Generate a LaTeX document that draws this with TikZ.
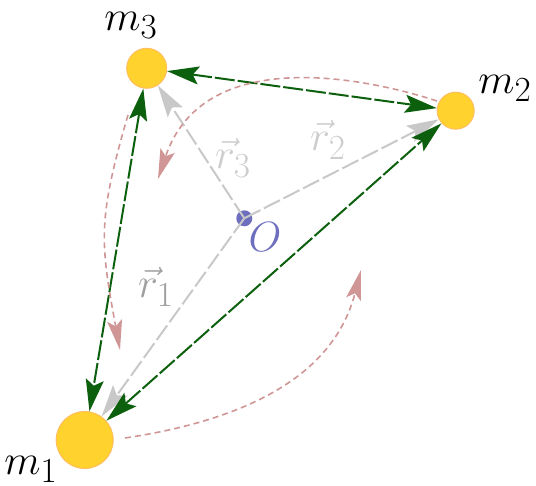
\documentclass[tikz,border=0pt]{standalone}
\usepackage{graphicx}
\usetikzlibrary{arrows.meta}
\definecolor{mgreen}{RGB}{12,95,12}
\definecolor{mgray}{RGB}{200,200,200}
\definecolor{mred}{RGB}{208,150,150}
\definecolor{myel}{RGB}{255,210,45}
\definecolor{mor}{RGB}{255,190,95}
\definecolor{mblue}{RGB}{110,110,190}
\definecolor{rlight}{RGB}{205,205,205}
\definecolor{rdark}{RGB}{160,160,160}
\newcommand{\biglab}[1]{\scalebox{1.7}{\Huge$#1$}}
\tikzset{
  bigtip/.tip={Stealth[length=32pt,width=18pt,inset=6pt]},
  redtip/.tip={Stealth[length=30pt,width=15pt,inset=6pt]},
  mass/.style={circle,fill=myel,draw=mor,line width=1pt,inner sep=0pt},
  gline/.style={draw=mgreen,line width=2pt,dash pattern=on 20pt off 3pt,bigtip-bigtip},
  grayline/.style={draw=mgray,line width=2pt,dash pattern=on 18pt off 4pt,-bigtip},
  redarc/.style={draw=mred,line width=1.6pt,dash pattern=on 6pt off 4pt,-redtip},
  lab/.style={inner sep=0pt}
}
\begin{document}
\begin{tikzpicture}[x=1pt,y=-1pt]
\useasboundingbox (0,0) rectangle (536,486);
% masses and origin
\node[mass,minimum size=57pt] (m1) at (84.7,440) {};
\node[mass,minimum size=37pt] (m2) at (455.7,110.7) {};
\node[mass,minimum size=40pt] (m3) at (146.7,68.3) {};
\node[circle,fill=mblue,minimum size=16pt,inner sep=0pt] (O) at (244.3,218.3) {};
% position vectors
\draw[grayline] (O.center) -- (m1);
\draw[grayline] (O.center) -- (m2);
\draw[grayline] (O.center) -- (m3);
% mutual forces
\draw[gline] (m3) -- (m2);
\draw[gline] (m3) -- (m1);
\draw[gline] (m1) -- (m2);
% rotation arcs
\coordinate (a0) at (437,101);
\coordinate (a1) at (158,179);
\coordinate (b0) at (128,115);
\coordinate (b1) at (120,350);
\coordinate (c0) at (125,438);
\coordinate (c1) at (361,270);
\draw[redarc] (a0) .. controls (361,76.2) and (202.8,46) .. (a1);
\draw[redarc] (b0) .. controls (97.2,220.6) and (100.2,242.2) .. (b1);
\draw[redarc] (c0) .. controls (245,420) and (333.5,376.7) .. (c1);
% labels
\node[lab] (l3) at (131,25) {\biglab{m_3}};
\node[lab] (l2) at (505,88) {\biglab{m_2}};
\node[lab] (l1) at (31,469) {\biglab{m_1}};
\node[lab,text=rlight] (r3) at (233,158) {\biglab{\vec{r}_3}};
\node[lab,text=rlight] (r2) at (328,140) {\biglab{\vec{r}_2}};
\node[lab,text=rdark] (r1) at (156,287) {\biglab{\vec{r}_1}};
\node[lab,text=mblue] (lo) at (265,237) {\biglab{O}};
\end{tikzpicture}
\end{document}
